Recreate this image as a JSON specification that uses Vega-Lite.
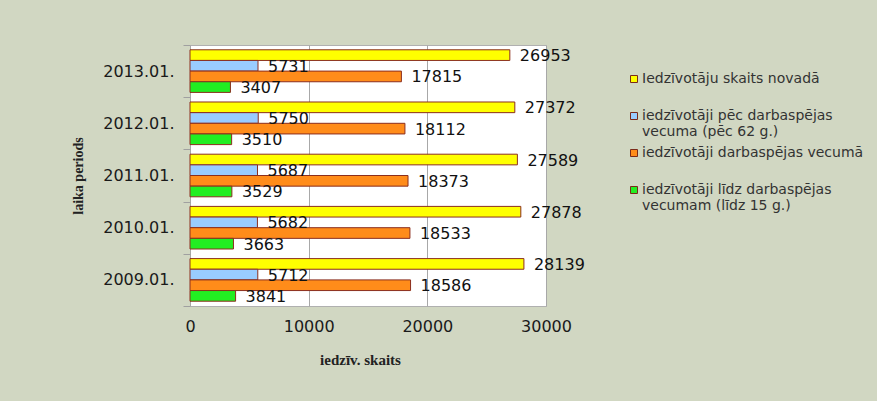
{
  "$schema": "https://vega.github.io/schema/vega-lite/v6.json",
  "width": 356,
  "height": 261,
  "autosize": {"type": "none"},
  "padding": {"left": 190, "top": 45, "right": 331, "bottom": 95},
  "background": "#d1d7c2",
  "config": {
    "view": {"fill": "white", "stroke": "#b0b0b0", "strokeWidth": 1},
    "font": "DejaVu Sans"
  },
  "data": {
    "values": [
      {"period": "2013.01.", "series": "Iedzīvotāju skaits novadā", "value": 26953},
      {"period": "2013.01.", "series": "iedzīvotāji pēc darbaspējas vecuma (pēc 62 g.)", "value": 5731},
      {"period": "2013.01.", "series": "iedzīvotāji darbaspējas vecumā", "value": 17815},
      {"period": "2013.01.", "series": "iedzīvotāji līdz darbaspējas vecumam (līdz 15 g.)", "value": 3407},
      {"period": "2012.01.", "series": "Iedzīvotāju skaits novadā", "value": 27372},
      {"period": "2012.01.", "series": "iedzīvotāji pēc darbaspējas vecuma (pēc 62 g.)", "value": 5750},
      {"period": "2012.01.", "series": "iedzīvotāji darbaspējas vecumā", "value": 18112},
      {"period": "2012.01.", "series": "iedzīvotāji līdz darbaspējas vecumam (līdz 15 g.)", "value": 3510},
      {"period": "2011.01.", "series": "Iedzīvotāju skaits novadā", "value": 27589},
      {"period": "2011.01.", "series": "iedzīvotāji pēc darbaspējas vecuma (pēc 62 g.)", "value": 5687},
      {"period": "2011.01.", "series": "iedzīvotāji darbaspējas vecumā", "value": 18373},
      {"period": "2011.01.", "series": "iedzīvotāji līdz darbaspējas vecumam (līdz 15 g.)", "value": 3529},
      {"period": "2010.01.", "series": "Iedzīvotāju skaits novadā", "value": 27878},
      {"period": "2010.01.", "series": "iedzīvotāji pēc darbaspējas vecuma (pēc 62 g.)", "value": 5682},
      {"period": "2010.01.", "series": "iedzīvotāji darbaspējas vecumā", "value": 18533},
      {"period": "2010.01.", "series": "iedzīvotāji līdz darbaspējas vecumam (līdz 15 g.)", "value": 3663},
      {"period": "2009.01.", "series": "Iedzīvotāju skaits novadā", "value": 28139},
      {"period": "2009.01.", "series": "iedzīvotāji pēc darbaspējas vecuma (pēc 62 g.)", "value": 5712},
      {"period": "2009.01.", "series": "iedzīvotāji darbaspējas vecumā", "value": 18586},
      {"period": "2009.01.", "series": "iedzīvotāji līdz darbaspējas vecumam (līdz 15 g.)", "value": 3841}
    ]
  },
  "encoding": {
    "y": {
      "field": "period",
      "type": "nominal",
      "sort": ["2013.01.", "2012.01.", "2011.01.", "2010.01.", "2009.01."],
      "scale": {"paddingInner": 0, "paddingOuter": 0},
      "axis": {
        "title": "laika periods",
        "titleFont": "Liberation Serif",
        "titleFontSize": 14,
        "titleFontWeight": "bold",
        "titleColor": "#222222",
        "titlePadding": 17,
        "labelFont": "DejaVu Sans",
        "labelFontSize": 16,
        "labelColor": "#1a1a1a",
        "labelPadding": 9,
        "tickBand": "extent",
        "tickSize": 7,
        "tickColor": "#a0a0a0",
        "domain": false
      }
    },
    "yOffset": {
      "field": "series",
      "type": "nominal",
      "sort": [
        "Iedzīvotāju skaits novadā",
        "iedzīvotāji pēc darbaspējas vecuma (pēc 62 g.)",
        "iedzīvotāji darbaspējas vecumā",
        "iedzīvotāji līdz darbaspējas vecumam (līdz 15 g.)"
      ],
      "scale": {"paddingInner": 0, "paddingOuter": 0.45}
    },
    "x": {
      "field": "value",
      "type": "quantitative",
      "scale": {"domain": [0, 30000], "nice": false},
      "axis": {
        "title": "iedzīv. skaits",
        "titleFont": "Liberation Serif",
        "titleFontSize": 15,
        "titleFontWeight": "bold",
        "titleColor": "#222222",
        "titlePadding": 18,
        "titleX": 170,
        "values": [0, 10000, 20000, 30000],
        "format": "d",
        "labelFont": "DejaVu Sans",
        "labelFontSize": 16,
        "labelColor": "#1a1a1a",
        "labelPadding": 12,
        "labelFlush": false,
        "labelOverlap": false,
        "ticks": false,
        "domain": false,
        "grid": true,
        "gridColor": "#a8a8a8",
        "gridWidth": 1
      }
    }
  },
  "layer": [
    {
      "mark": {"type": "bar", "stroke": "#8b2e1e", "strokeWidth": 1},
      "encoding": {
        "color": {
          "field": "series",
          "type": "nominal",
          "scale": {
            "domain": [
              "Iedzīvotāju skaits novadā",
              "iedzīvotāji pēc darbaspējas vecuma (pēc 62 g.)",
              "iedzīvotāji darbaspējas vecumā",
              "iedzīvotāji līdz darbaspējas vecumam (līdz 15 g.)"
            ],
            "range": ["#ffff00", "#99ccff", "#ff8c1a", "#22ee22"]
          },
          "legend": {
            "title": null,
            "orient": "none",
            "legendX": 437,
            "legendY": 27,
            "symbolType": "square",
            "symbolSize": 49,
            "symbolStrokeColor": "#7a2a1a",
            "symbolStrokeWidth": 1,
            "symbolOpacity": 1,
            "labelFont": "DejaVu Sans",
            "labelFontSize": 14,
            "labelColor": "#333333",
            "labelLimit": 400,
            "labelOffset": 1,
            "labelBaseline": "middle",
            "rowPadding": 7,
            "labelExpr": "length(datum.label) > 30 ? [substring(datum.label, 0, lastindexof(substring(datum.label, 0, 29), ' ')), substring(datum.label, lastindexof(substring(datum.label, 0, 29), ' ') + 1)] : [datum.label, '']"
          }
        }
      }
    },
    {
      "mark": {"type": "text", "align": "left", "baseline": "middle", "dx": 10, "dy": 1, "fontSize": 16, "font": "DejaVu Sans", "color": "#111111"},
      "encoding": {
        "text": {"field": "value", "type": "quantitative", "format": "d"}
      }
    }
  ]
}
